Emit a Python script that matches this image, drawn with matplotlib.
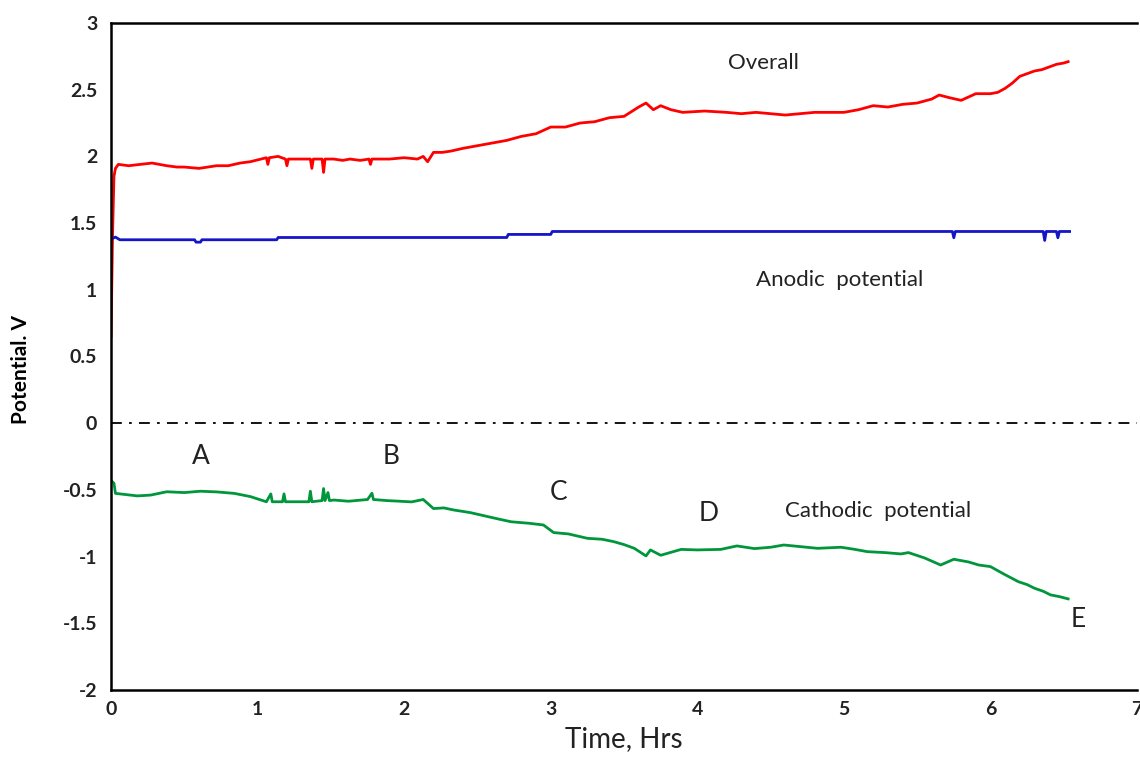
import matplotlib.pyplot as plt

# Overall cell potential (red)
overall_t = [0.0, 0.01, 0.02, 0.03, 0.05, 0.12, 0.2, 0.28, 0.38, 0.45, 0.5, 0.6, 0.66, 0.72, 0.8, 0.88,
             0.95, 1.06, 1.07, 1.08, 1.14, 1.19, 1.2, 1.21, 1.29, 1.36, 1.37, 1.38, 1.44, 1.45, 1.46,
             1.52, 1.58, 1.63, 1.7, 1.76, 1.77, 1.78, 1.9, 2.0, 2.09, 2.13, 2.16, 2.2, 2.26, 2.32, 2.4,
             2.5, 2.6, 2.7, 2.8, 2.9, 3.0, 3.1, 3.2, 3.3, 3.4, 3.5, 3.6, 3.65, 3.7, 3.75, 3.82, 3.9,
             4.05, 4.2, 4.3, 4.4, 4.5, 4.6, 4.7, 4.8, 4.9, 5.0, 5.1, 5.2, 5.3, 5.4, 5.5, 5.6, 5.65,
             5.72, 5.8, 5.9, 6.0, 6.05, 6.1, 6.15, 6.2, 6.25, 6.3, 6.35, 6.4, 6.45, 6.5, 6.53]
overall_v = [0.65, 1.4, 1.85, 1.91, 1.94, 1.93, 1.94, 1.95, 1.93, 1.92, 1.92, 1.91, 1.92, 1.93, 1.93, 1.95,
             1.96, 1.99, 1.94, 1.99, 2.0, 1.98, 1.93, 1.98, 1.98, 1.98, 1.91, 1.98, 1.98, 1.88, 1.98,
             1.98, 1.97, 1.98, 1.97, 1.98, 1.94, 1.98, 1.98, 1.99, 1.98, 2.0, 1.96, 2.03, 2.03, 2.04, 2.06,
             2.08, 2.10, 2.12, 2.15, 2.17, 2.22, 2.22, 2.25, 2.26, 2.29, 2.30, 2.37, 2.40, 2.35, 2.38, 2.35, 2.33,
             2.34, 2.33, 2.32, 2.33, 2.32, 2.31, 2.32, 2.33, 2.33, 2.33, 2.35, 2.38, 2.37, 2.39, 2.40, 2.43, 2.46,
             2.44, 2.42, 2.47, 2.47, 2.48, 2.51, 2.55, 2.60, 2.62, 2.64, 2.65, 2.67, 2.69, 2.70, 2.71]

# Anodic potential (blue)
anodic_t = [0.0, 0.03, 0.06, 0.57, 0.58, 0.61, 0.62, 1.13, 1.14, 2.70, 2.71, 3.0, 3.01,
            5.74, 5.75, 5.76, 6.36, 6.37, 6.38, 6.45, 6.46, 6.47, 6.54]
anodic_v = [1.38, 1.395, 1.375, 1.375, 1.357, 1.357, 1.375, 1.375, 1.392, 1.392, 1.415, 1.415, 1.437,
            1.437, 1.39, 1.437, 1.437, 1.37, 1.437, 1.437, 1.39, 1.437, 1.437]

# Cathodic potential (green)
cathodic_t = [0.0, 0.02, 0.03, 0.1, 0.18, 0.27, 0.38, 0.5, 0.61, 0.72, 0.84, 0.95, 1.06, 1.09, 1.1, 1.17,
              1.18, 1.19, 1.29, 1.35, 1.36, 1.37, 1.44, 1.45, 1.46, 1.48, 1.49, 1.52, 1.62, 1.75, 1.78,
              1.79, 1.88, 1.97, 2.05, 2.13, 2.2, 2.27, 2.34, 2.45, 2.57, 2.65, 2.73, 2.85, 2.95, 3.02,
              3.12, 3.25, 3.35, 3.43, 3.5, 3.57, 3.65, 3.68, 3.75, 3.89, 4.0, 4.16, 4.27, 4.39, 4.5,
              4.59, 4.7, 4.82, 4.98, 5.07, 5.16, 5.28, 5.39, 5.44, 5.55, 5.66, 5.75, 5.85, 5.92, 6.0,
              6.09, 6.19, 6.25, 6.3, 6.36, 6.41, 6.47, 6.53]
cathodic_v = [-0.43, -0.45, -0.526, -0.535, -0.545, -0.539, -0.514, -0.52, -0.51, -0.515, -0.526, -0.55, -0.589, -0.53, -0.589, -0.589,
              -0.53, -0.589, -0.589, -0.589, -0.51, -0.589, -0.58, -0.49, -0.58, -0.52, -0.58, -0.576, -0.585, -0.572, -0.525,
              -0.572, -0.58, -0.585, -0.59, -0.572, -0.64, -0.635, -0.651, -0.67, -0.70, -0.72, -0.739, -0.75, -0.763, -0.82,
              -0.83, -0.863, -0.87, -0.888, -0.91, -0.938, -0.995, -0.95, -0.99, -0.946, -0.95, -0.946, -0.92, -0.94, -0.93,
              -0.913, -0.925, -0.938, -0.93, -0.945, -0.963, -0.97, -0.98, -0.97, -1.01, -1.063, -1.02, -1.04, -1.063, -1.075,
              -1.13, -1.188, -1.21, -1.237, -1.26, -1.287, -1.30, -1.317]

# text labels on the plot: (text, x, y, size)
labels = [
    ("Overall", 4.45, 2.70, 16),
    ("Anodic  potential", 4.97, 1.07, 16),
    ("Cathodic  potential", 5.23, -0.66, 16),
    ("A", 0.61, -0.25, 19),
    ("B", 1.91, -0.25, 19),
    ("C", 3.05, -0.52, 19),
    ("D", 4.08, -0.68, 19),
    ("E", 6.60, -1.47, 19),
]

plt.rcParams['font.family'] = ['Lato', 'DejaVu Sans']

fig = plt.figure(figsize=(11.4, 7.61), dpi=100)
ax = fig.add_axes([0.0974, 0.0933, 0.9, 0.8765])

ax.axhline(0, color="black", lw=1.3, dashes=(6, 4, 1.5, 4))
ax.plot(overall_t, overall_v, color="#ff0000", lw=2.0)
ax.plot(anodic_t, anodic_v, color="#1414c8", lw=2.0)
ax.plot(cathodic_t, cathodic_v, color="#00963c", lw=2.0)

for text, x, y, size in labels:
    ax.text(x, y, text, fontsize=size, color="#222222", ha="center", va="center")

ax.set_xlim(0, 7)
ax.set_ylim(-2, 3)
ax.set_xticks(range(0, 8))
ax.set_yticks([-2, -1.5, -1, -0.5, 0, 0.5, 1, 1.5, 2, 2.5, 3])
ax.set_yticklabels(["-2", "-1.5", "-1", "-0.5", "0", "0.5", "1", "1.5", "2", "2.5", "3"])
ax.tick_params(axis="y", length=0, pad=10, labelsize=14)
ax.tick_params(axis="x", length=0, pad=8, labelsize=14)
for lab in ax.get_yticklabels() + ax.get_xticklabels():
    lab.set_fontweight("bold")
    lab.set_color("#222222")

ax.set_xlabel("Time, Hrs", fontsize=20, color="#222222", labelpad=6)
ax.set_ylabel("Potential. V", fontsize=15, fontweight="bold")
ax.yaxis.set_label_coords(-0.078, 0.48)

ax.spines["right"].set_visible(False)
for side in ("left", "bottom", "top"):
    ax.spines[side].set_linewidth(1.8)

fig.savefig("out.png", dpi=100)
